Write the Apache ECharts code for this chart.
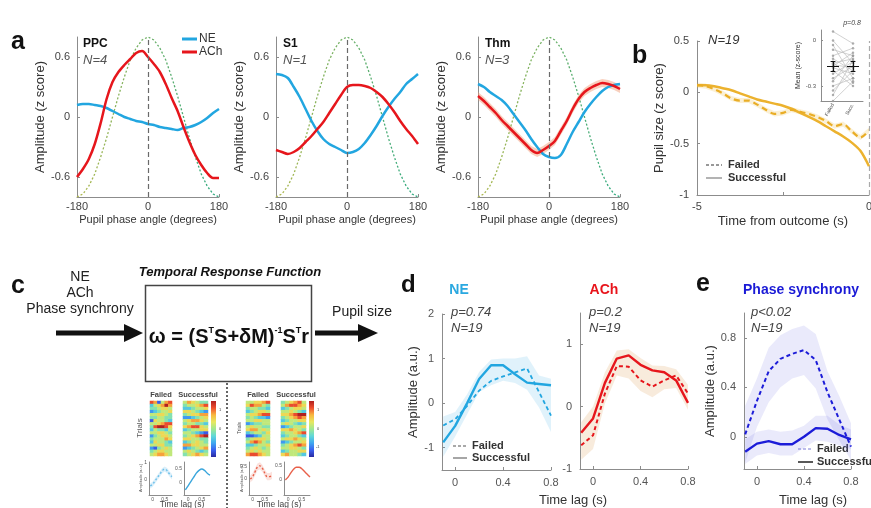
<!DOCTYPE html>
<html><head><meta charset="utf-8">
<script src="https://cdn.jsdelivr.net/npm/echarts@6/dist/echarts.min.js"></script>
<style>html,body{margin:0;padding:0;background:#fff}#c{width:871px;height:508px}</style>
</head><body><div id="c"></div><script>
const FONT = '"Liberation Sans", Arial, Helvetica, sans-serif';
const BLUE = '#22a6e0', RED = '#e6161c', GOLD = '#ecb22e', PS = '#1c1cd8';

// ---------- panel a ----------
const angles = [-180,-165,-150,-135,-120,-105,-90,-75,-60,-45,-30,-15,0,15,30,45,60,75,90,105,120,135,150,165,180];
const phaseRef = [-0.80,-0.77,-0.69,-0.57,-0.40,-0.21,0.00,0.21,0.40,0.57,0.69,0.77,0.80,0.77,0.69,0.57,0.40,0.21,0.00,-0.21,-0.40,-0.57,-0.69,-0.77,-0.80];
const ppcNE  = [0.12,0.13,0.13,0.12,0.11,0.09,0.06,0.03,0.00,-0.02,-0.04,-0.05,-0.07,-0.08,-0.10,-0.11,-0.12,-0.13,-0.11,-0.10,-0.08,-0.05,-0.01,0.04,0.08];
const ppcACh = [-0.60,-0.52,-0.42,-0.27,-0.06,0.18,0.35,0.45,0.52,0.58,0.64,0.66,0.60,0.53,0.45,0.33,0.19,0.06,-0.10,-0.25,-0.38,-0.48,-0.56,-0.61,-0.61];
const s1NE   = [0.43,0.42,0.39,0.30,0.20,0.08,-0.04,-0.14,-0.22,-0.27,-0.30,-0.33,-0.36,-0.35,-0.32,-0.26,-0.18,-0.09,0.01,0.10,0.18,0.25,0.33,0.38,0.43];
const s1ACh  = [-0.33,-0.35,-0.37,-0.35,-0.31,-0.25,-0.19,-0.12,-0.05,0.04,0.13,0.22,0.30,0.32,0.32,0.31,0.29,0.25,0.20,0.13,0.05,-0.04,-0.12,-0.19,-0.27];
const thmNE  = [0.33,0.30,0.25,0.21,0.17,0.11,0.03,-0.05,-0.13,-0.22,-0.30,-0.37,-0.40,-0.41,-0.38,-0.27,-0.15,-0.05,0.05,0.13,0.20,0.26,0.30,0.32,0.33];
const thmACh = [0.21,0.16,0.10,0.04,-0.03,-0.09,-0.15,-0.21,-0.27,-0.33,-0.36,-0.33,-0.29,-0.24,-0.14,-0.04,0.08,0.18,0.25,0.29,0.32,0.34,0.33,0.31,0.28];
const thmAChSpread = 0.04;
const aTicksY = [-0.6, 0, 0.6];

// ---------- panel b ----------
const bTime = [-5,-4.75,-4.5,-4.25,-4,-3.75,-3.5,-3.25,-3,-2.75,-2.5,-2.25,-2,-1.75,-1.5,-1.25,-1,-0.75,-0.5,-0.25,0];
const bSuccessful = [0.07,0.07,0.06,0.04,0.02,-0.01,-0.04,-0.07,-0.09,-0.11,-0.13,-0.16,-0.20,-0.24,-0.28,-0.33,-0.38,-0.43,-0.49,-0.57,-0.72];
const bFailed = [0.07,0.06,0.03,-0.01,-0.06,-0.08,-0.08,-0.12,-0.17,-0.21,-0.20,-0.17,-0.19,-0.21,-0.24,-0.28,-0.33,-0.31,-0.38,-0.44,-0.37];
const bFailedSpread = 0.025;
const insetFailed = [0.06,0.0,-0.03,-0.06,-0.10,-0.12,-0.14,-0.15,-0.16,-0.17,-0.18,-0.20,-0.22,-0.25,-0.27,-0.30,-0.33,-0.36,-0.40];
const insetSucc   = [-0.02,-0.15,-0.25,-0.10,-0.05,-0.20,-0.28,-0.12,-0.18,-0.08,-0.22,-0.30,-0.14,-0.17,-0.10,-0.25,-0.20,-0.13,-0.27];
const insetMean = [-0.17, -0.17];
const insetSem  = [0.035, 0.03];
const insetCats = ['Failed', 'Succ.'];

// ---------- panels d / e ----------
const lags = [-0.1,0,0.1,0.2,0.3,0.4,0.5,0.6,0.7,0.8];
const neSuccessful = [-0.88,-0.51,0.0,0.54,0.85,0.85,0.65,0.46,0.43,0.40];
const neFailed     = [-0.50,-0.36,-0.06,0.28,0.50,0.60,0.69,0.78,0.25,-0.28];
const neUpper      = [-0.30,-0.20,0.20,0.70,0.98,1.00,1.00,1.05,0.62,0.55];
const neLower      = [-1.20,-0.75,-0.25,0.25,0.40,0.50,0.45,0.30,-0.10,-0.65];
const achSuccessful = [-0.42,-0.19,0.38,0.77,0.82,0.67,0.58,0.55,0.42,0.06];
const achFailed     = [-0.62,-0.46,0.21,0.65,0.64,0.42,0.32,0.42,0.50,0.21];
const achUpper      = [-0.25,0.00,0.55,0.90,0.92,0.78,0.66,0.65,0.60,0.35];
const achLower      = [-0.85,-0.68,0.05,0.50,0.45,0.25,0.15,0.28,0.30,-0.05];
const psSuccessful  = [-0.12,-0.055,-0.035,-0.06,-0.06,0.0,0.07,0.065,0.015,-0.02];
const psFailed      = [0.02,0.29,0.53,0.63,0.67,0.70,0.62,0.36,0.14,-0.08];
const psFailUpper   = [0.25,0.47,0.72,0.82,0.87,0.90,0.83,0.53,0.33,0.11];
const psFailLower   = [-0.21,0.08,0.28,0.40,0.47,0.50,0.39,0.14,-0.03,-0.19];
const psSuccUpper   = [-0.02,0.04,0.06,0.04,0.05,0.09,0.17,0.17,0.10,0.06];
const psSuccLower   = [-0.22,-0.15,-0.13,-0.15,-0.15,-0.09,-0.03,-0.04,-0.07,-0.10];

// ---------- panel c (small insets) ----------
const heatNEFailed = ["871578","356797","445665","234556","556654","445544","165543","556788","489986","354435","556654","245665","455576","365543","556644","214565","456655","567765"];
const heatNESucc   = ["576544","455678","334556","665432","456677","223456","567765","455443","678865","345566","554321","456789","665544","345654","776655","234567","565434","456765"];
const heatAChFailed= ["556678","687754","455443","345665","566788","454332","556655","234455","565544","677565","345546","112355","456665","578754","334556","456545","565655","788765"];
const heatAChSucc  = ["456785","578876","345665","556543","667899","456787","345566","565434","234556","667654","455678","345543","566765","234556","456787","556654","345566","675543"];
const miniNEFailed  = [-0.35,-0.25,-0.05,0.15,0.35,0.55,0.65,0.55,0.35,0.20];
const miniNESucc    = [-0.25,-0.10,0.05,0.20,0.35,0.45,0.50,0.45,0.35,0.28];
const miniAChFailed = [0.00,0.10,0.30,0.50,0.55,0.45,0.25,0.10,0.10,0.15];
const miniAChSucc   = [0.00,0.10,0.25,0.38,0.45,0.45,0.40,0.30,0.20,0.10];
const miniSpread = 0.15;
const JET = ['#2a2aa0','#3a60f0','#40a8f0','#60d8d8','#a0e890','#e8e860','#f8b840','#f05030','#b02020'];

// ---------- helpers ----------
const pair = (xs, ys) => xs.map((x, i) => [x, ys[i]]);
function merge(a, b) {
  const o = Object.assign({}, a);
  for (const k in b) {
    if (b[k] && typeof b[k] === 'object' && !Array.isArray(b[k]) && a[k] && typeof a[k] === 'object' && !Array.isArray(a[k])) o[k] = merge(a[k], b[k]);
    else o[k] = b[k];
  }
  return o;
}
const grids = [], xAxes = [], yAxes = [], series = [];
function addGrid(l, t, w, h) { grids.push({left: l, top: t, width: w, height: h, containLabel: false, outerBoundsMode: 'none'}); return grids.length - 1; }
const AXC = '#8c8c8c';
function vAxis(gi, o) {
  return merge({type: 'value', gridIndex: gi, splitLine: {show: false},
    axisLine: {show: true, onZero: false, lineStyle: {color: AXC, width: 1}},
    axisTick: {show: true, inside: true, length: 3, lineStyle: {color: AXC}},
    axisLabel: {color: '#444', fontSize: 11, fontFamily: FONT, showMinLabel: true, showMaxLabel: true},
    nameLocation: 'middle', nameTextStyle: {color: '#333', fontFamily: FONT, fontSize: 12}}, o);
}
function addSeries(s) { series.push(s); return series.length - 1; }
function band(gi, xs, lo, hi, color) {
  return addSeries({type: 'custom', xAxisIndex: gi, yAxisIndex: gi, silent: true, z: 1,
    data: xs.map((x, i) => [x, lo[i], hi[i]]),
    encode: {x: 0, y: [1, 2]},
    renderItem: (params, api) => {
      if (params.dataIndex !== 0) return null;
      const pts = [];
      xs.forEach((x, i) => pts.push(api.coord([x, hi[i]])));
      for (let i = xs.length - 1; i >= 0; i--) pts.push(api.coord([xs[i], lo[i]]));
      return {type: 'polygon', shape: {points: pts}, style: {fill: color}};
    }});
}
function line(gi, xs, ys, color, width, dash, extra) {
  return addSeries(merge({type: 'line', xAxisIndex: gi, yAxisIndex: gi, data: pair(xs, ys), showSymbol: false, symbol: 'none', silent: true,
    lineStyle: {color: color, width: width, type: dash || 'solid'}, z: 3}, extra || {}));
}
const vDash = {markLine: {silent: true, symbol: 'none', label: {show: false}, lineStyle: {color: '#6a6a6a', type: [5, 3], width: 1.2}, data: [{xAxis: 0}]}};

// ---------- panel a ----------
const greenGrad = new echarts.graphic.LinearGradient(0, 0, 1, 0, [{offset: 0, color: '#b2b84c'}, {offset: 1, color: '#2aa982'}]);
const aLefts = [77, 276, 478];
const aSets = [[ppcNE, ppcACh], [s1NE, s1ACh], [thmNE, thmACh]];
aLefts.forEach((l, k) => {
  const gi = addGrid(l, 37, 142, 160);
  xAxes.push(vAxis(gi, {min: -180, max: 180, interval: 180, name: 'Pupil phase angle (degrees)', nameGap: 17, nameTextStyle: {fontSize: 11}, axisLabel: {margin: 4}}));
  yAxes.push(vAxis(gi, {min: -0.8, max: 0.8, axisLabel: {customValues: aTicksY, margin: 7}, axisTick: {customValues: aTicksY}, name: 'Amplitude (z score)', nameGap: 23, nameTextStyle: {fontSize: 13}}));
  line(gi, angles, phaseRef, greenGrad, 1.3, [2, 2], merge(vDash, {z: 2}));
  if (k === 2) {
    band(gi, angles, aSets[k][1].map(v => v - thmAChSpread), aSets[k][1].map(v => v + thmAChSpread), 'rgba(240,150,110,0.45)');
  }
  line(gi, angles, aSets[k][0], BLUE, 2.5, 'solid', {smooth: 0.3, z: 3});
  line(gi, angles, aSets[k][1], RED, 2.5, 'solid', {smooth: 0.3, z: 4});
});

// ---------- panel b ----------
{
  const gi = addGrid(697, 41, 172, 154);
  xAxes.push(vAxis(gi, {min: -5, max: 0, axisLabel: {customValues: [-5, 0], margin: 6}, axisTick: {customValues: [-5, -2.5, 0]}, name: 'Time from outcome (s)', nameGap: 20, nameTextStyle: {fontSize: 13}}));
  yAxes.push(vAxis(gi, {min: -1, max: 0.5, interval: 0.5, name: 'Pupil size (z score)', nameGap: 26, nameTextStyle: {fontSize: 13}, axisLabel: {margin: 8}}));
  band(gi, bTime, bFailed.map(v => v - bFailedSpread), bFailed.map(v => v + bFailedSpread), 'rgba(236,178,46,0.2)');
  line(gi, bTime, bSuccessful, GOLD, 2.5, 'solid', merge(vDash, {smooth: 0.3, markLine: {lineStyle: {color: '#aaa'}}}));
  line(gi, bTime, bFailed, '#e9ad26', 2.2, [6, 4], {smooth: 0.3});
}
// inset
{
  const gi = addGrid(821, 30, 42, 71);
  xAxes.push(vAxis(gi, {min: -0.6, max: 1.5, axisTick: {show: false},
    axisLabel: {customValues: [0, 1], formatter: v => insetCats[Math.round(v)], rotate: 60, fontSize: 5, margin: 3, color: '#555'}}));
  yAxes.push(vAxis(gi, {min: -0.4, max: 0.07, axisLabel: {customValues: [0, -0.3], fontSize: 6, margin: 5, color: '#555'}, axisTick: {customValues: [0, -0.3], length: 2},
    name: 'Mean (z-score)', nameGap: 10, nameTextStyle: {fontSize: 7}}));
  addSeries({type: 'lines', coordinateSystem: 'cartesian2d', xAxisIndex: gi, yAxisIndex: gi, silent: true, z: 2,
    lineStyle: {color: '#bdbdbd', width: 0.7, opacity: 1},
    data: insetFailed.map((f, i) => ({coords: [[0, f], [1, insetSucc[i]]]}))});
  addSeries({type: 'scatter', xAxisIndex: gi, yAxisIndex: gi, silent: true, symbolSize: 2.5, itemStyle: {color: '#9a9a9a'}, z: 3,
    data: insetFailed.map(v => [0, v]).concat(insetSucc.map(v => [1, v]))});
  const eb = [];
  insetMean.forEach((m, i) => {
    const s = insetSem[i];
    eb.push({coords: [[i, m - s], [i, m + s]]});
    eb.push({coords: [[i - 0.12, m - s], [i + 0.12, m - s]]});
    eb.push({coords: [[i - 0.12, m + s], [i + 0.12, m + s]]});
    eb.push({coords: [[i - 0.3, m], [i + 0.3, m]]});
  });
  addSeries({type: 'lines', coordinateSystem: 'cartesian2d', xAxisIndex: gi, yAxisIndex: gi, silent: true, z: 4,
    lineStyle: {color: '#111', width: 1.2, opacity: 1}, data: eb});
}

// ---------- panels d / e ----------
const lagAxis = (gi) => vAxis(gi, {min: -0.11, max: 0.8, axisLabel: {customValues: [0, 0.4, 0.8], color: '#555', margin: 7}, axisTick: {customValues: [0, 0.4, 0.8]}});
{
  const gi = addGrid(442, 314, 109, 156);
  xAxes.push(lagAxis(gi));
  yAxes.push(vAxis(gi, {min: -1.5, max: 2, axisLabel: {customValues: [-1, 0, 1, 2], color: '#555', margin: 8}, axisTick: {customValues: [-1, 0, 1, 2]}, name: 'Amplitude (a.u.)', nameGap: 22, nameTextStyle: {fontSize: 13}}));
  band(gi, lags, neLower, neUpper, 'rgba(34,166,224,0.14)');
  line(gi, lags, neFailed, BLUE, 1.8, [4, 3]);
  line(gi, lags, neSuccessful, BLUE, 2.4);
}
{
  const gi = addGrid(580, 313, 108, 156);
  xAxes.push(lagAxis(gi));
  yAxes.push(vAxis(gi, {min: -1, max: 1.5, axisLabel: {customValues: [-1, 0, 1], color: '#555', margin: 8}, axisTick: {customValues: [-1, 0, 1]}}));
  band(gi, lags, achLower, achUpper, 'rgba(232,190,140,0.3)');
  line(gi, lags, achFailed, RED, 2, [4, 3]);
  line(gi, lags, achSuccessful, RED, 2.4);
}
{
  const gi = addGrid(744, 313, 107, 156);
  xAxes.push(lagAxis(gi));
  yAxes.push(vAxis(gi, {min: -0.26, max: 1.0, axisLabel: {customValues: [0, 0.4, 0.8], color: '#555', margin: 8}, axisTick: {customValues: [0, 0.4, 0.8]}, name: 'Amplitude (a.u.)', nameGap: 24, nameTextStyle: {fontSize: 13}}));
  band(gi, lags, psFailLower, psFailUpper, 'rgba(90,90,225,0.13)');
  band(gi, lags, psSuccLower, psSuccUpper, 'rgba(90,90,225,0.13)');
  line(gi, lags, psFailed, PS, 2, [4, 3]);
  line(gi, lags, psSuccessful, PS, 2.4);
}

// ---------- panel c small heatmaps ----------
const heatIdx = [];
[[150, heatNEFailed], [183, heatNESucc], [246, heatAChFailed], [281, heatAChSucc]].forEach(([l, rows]) => {
  const gi = addGrid(l, 401, l === 150 ? 22 : (l === 246 ? 24 : 25), 55);
  const nC = rows[0].length, nR = rows.length;
  xAxes.push({type: 'category', gridIndex: gi, data: Array.from({length: nC}, (_, i) => i), show: false});
  yAxes.push({type: 'category', gridIndex: gi, data: Array.from({length: nR}, (_, i) => i), show: false, inverse: true});
  const data = [];
  rows.forEach((r, ri) => { for (let ci = 0; ci < nC; ci++) data.push([ci, ri, +r[ci]]); });
  heatIdx.push(addSeries({type: 'heatmap', xAxisIndex: gi, yAxisIndex: gi, data, silent: true, itemStyle: {borderWidth: 0}}));
});
// small line plots
const miniDefs = [
  [149, 23, miniNEFailed, '#6cbfea', [2, 2], [-0.88, 1.06], [0, 1], 'rgba(108,191,234,0.25)'],
  [184, 26, miniNESucc, '#3aa6dc', 'solid', [-0.43, 0.75], [0, 0.5], null],
  [249, 23, miniAChFailed, '#e8604a', [2, 2], [-0.67, 0.71], [0, 0.5], 'rgba(240,140,120,0.25)'],
  [284, 26, miniAChSucc, '#e8604a', 'solid', [-0.54, 0.64], [0, 0.5], null]
];
miniDefs.forEach(([l, w, ys, col, dash, yr, yt, bcol]) => {
  const gi = addGrid(l, 462, w, 33);
  xAxes.push(vAxis(gi, {min: -0.15, max: 0.8, axisTick: {show: false}, axisLabel: {customValues: [0, 0.5], fontSize: 5, margin: 2, color: '#555'}}));
  yAxes.push(vAxis(gi, {min: yr[0], max: yr[1], axisTick: {show: false}, axisLabel: {customValues: yt, fontSize: 5, margin: 2, color: '#555'}}));
  if (bcol) band(gi, lags, ys.map(v => v - miniSpread), ys.map(v => v + miniSpread), bcol);
  line(gi, lags, ys, col, 1.4, dash, {smooth: 0.4});
});

// ---------- graphics ----------
const T = (x, y, text, o) => ({type: 'text', x, y, silent: true, style: merge({text, fontFamily: FONT, fontSize: 12, fill: '#222', align: 'left', verticalAlign: 'middle'}, o || {})});
const L = (x1, y1, x2, y2, o) => ({type: 'line', silent: true, shape: {x1, y1, x2, y2}, style: merge({stroke: '#333', lineWidth: 1.5}, o || {})});
const cbar = (x) => ({type: 'rect', silent: true, shape: {x, y: 401, width: 5, height: 56},
  style: {fill: new echarts.graphic.LinearGradient(0, 1, 0, 0, JET.map((c, i) => ({offset: i / (JET.length - 1), color: c})))}});
const g = [
  // panel letters
  T(11, 30, 'a', {fontSize: 25, fontWeight: 'bold', verticalAlign: 'alphabetic', fill: '#111'}),
  T(632, 44, 'b', {fontSize: 25, fontWeight: 'bold', verticalAlign: 'alphabetic', fill: '#111'}),
  T(11, 274, 'c', {fontSize: 25, fontWeight: 'bold', verticalAlign: 'alphabetic', fill: '#111'}),
  T(401, 273, 'd', {fontSize: 24, fontWeight: 'bold', verticalAlign: 'alphabetic', fill: '#111'}),
  T(696, 272, 'e', {fontSize: 25, fontWeight: 'bold', verticalAlign: 'alphabetic', fill: '#111'}),
  // panel a annotations
  T(83, 44, 'PPC', {fontWeight: 'bold', fill: '#111'}), T(83, 60, 'N=4', {fontStyle: 'italic', fontSize: 13, fill: '#555'}),
  T(283, 44, 'S1', {fontWeight: 'bold', fill: '#111'}), T(283, 60, 'N=1', {fontStyle: 'italic', fontSize: 13, fill: '#555'}),
  T(485, 44, 'Thm', {fontWeight: 'bold', fill: '#111'}), T(485, 60, 'N=3', {fontStyle: 'italic', fontSize: 13, fill: '#555'}),
  L(182, 39, 197, 39, {stroke: BLUE, lineWidth: 3}), T(199, 39, 'NE', {fill: '#333'}),
  L(182, 52, 197, 52, {stroke: RED, lineWidth: 3}), T(199, 52, 'ACh', {fill: '#333'}),
  // panel b annotations
  T(708, 40, 'N=19', {fontStyle: 'italic', fontSize: 13, fill: '#333'}),
  L(706, 165, 722, 165, {stroke: '#333', lineWidth: 1.2, lineDash: [3, 2]}), T(728, 165, 'Failed', {fontWeight: 'bold', fontSize: 11, fill: '#333'}),
  L(706, 178, 722, 178, {stroke: '#9a9a9a', lineWidth: 1.5}), T(728, 178, 'Successful', {fontWeight: 'bold', fontSize: 11, fill: '#333'}),
  T(852, 23, 'p=0.8', {fontStyle: 'italic', fontSize: 7, fill: '#444', align: 'center'}),
  // panel c diagram
  T(80, 277, 'NE', {fontSize: 14, align: 'center', fill: '#222'}),
  T(80, 293, 'ACh', {fontSize: 14, align: 'center', fill: '#222'}),
  T(80, 309, 'Phase synchrony', {fontSize: 14, align: 'center', fill: '#222'}),
  T(230, 272, 'Temporal Response Function', {fontSize: 13, fontWeight: 'bold', fontStyle: 'italic', align: 'center', fill: '#111'}),
  {type: 'rect', silent: true, shape: {x: 145.5, y: 285.5, width: 166, height: 96}, style: {fill: 'none', stroke: '#444', lineWidth: 1.5}},
  {type: 'text', x: 229, y: 335, silent: true, style: {
    text: '{m|ω = (S}{s|T}{m|S+δM)}{s|-1}{m|S}{s|T}{m|r}', align: 'center', verticalAlign: 'middle',
    rich: {m: {fontFamily: FONT, fontSize: 20, fontWeight: 'bold', fill: '#111', lineHeight: 24, verticalAlign: 'bottom'},
           s: {fontFamily: FONT, fontSize: 9, fontWeight: 'bold', fill: '#111', lineHeight: 24, verticalAlign: 'top', padding: [3, 0, 0, 0]}}}},
  L(56, 333, 126, 333, {stroke: '#111', lineWidth: 5}),
  {type: 'polygon', silent: true, shape: {points: [[124, 324], [143, 333], [124, 342]]}, style: {fill: '#111'}},
  L(315, 333, 360, 333, {stroke: '#111', lineWidth: 5}),
  {type: 'polygon', silent: true, shape: {points: [[358, 324], [378, 333], [358, 342]]}, style: {fill: '#111'}},
  T(362, 312, 'Pupil size', {fontSize: 14, align: 'center', fill: '#222'}),
  L(227, 383, 227, 508, {stroke: '#333', lineWidth: 1.5, lineDash: [2, 2]}),
  T(161, 395, 'Failed', {fontSize: 7.5, fontWeight: 'bold', align: 'center', fill: '#444'}),
  T(198, 395, 'Successful', {fontSize: 7.5, fontWeight: 'bold', align: 'center', fill: '#444'}),
  T(258, 395, 'Failed', {fontSize: 7.5, fontWeight: 'bold', align: 'center', fill: '#444'}),
  T(296, 395, 'Successful', {fontSize: 7.5, fontWeight: 'bold', align: 'center', fill: '#444'}),
  cbar(211), cbar(309),
  T(219, 410, '1', {fontSize: 4, fill: '#444'}), T(219, 429, '0', {fontSize: 4, fill: '#444'}), T(218, 447, '-1', {fontSize: 4, fill: '#444'}),
  T(317, 410, '1', {fontSize: 4, fill: '#444'}), T(317, 429, '0', {fontSize: 4, fill: '#444'}), T(316, 447, '-1', {fontSize: 4, fill: '#444'}),
  {type: 'text', x: 140, y: 428, rotation: Math.PI / 2, silent: true, style: {text: 'Trials', fontFamily: FONT, fontSize: 8, fill: '#555', align: 'center', verticalAlign: 'middle'}},
  {type: 'text', x: 240, y: 428, rotation: Math.PI / 2, silent: true, style: {text: 'Trials', fontFamily: FONT, fontSize: 5, fill: '#555', align: 'center', verticalAlign: 'middle'}},
  {type: 'text', x: 141, y: 478, rotation: Math.PI / 2, silent: true, style: {text: 'Amplitude (a.u.)', fontFamily: FONT, fontSize: 4, fill: '#555', align: 'center', verticalAlign: 'middle'}},
  {type: 'text', x: 242, y: 478, rotation: Math.PI / 2, silent: true, style: {text: 'Amplitude (a.u.)', fontFamily: FONT, fontSize: 4, fill: '#555', align: 'center', verticalAlign: 'middle'}},
  T(182, 505, 'Time lag (s)', {fontSize: 8.5, align: 'center', fill: '#444'}),
  T(279, 505, 'Time lag (s)', {fontSize: 8.5, align: 'center', fill: '#444'}),
  // panel d / e annotations
  T(459, 290, 'NE', {fontSize: 14, fontWeight: 'bold', align: 'center', fill: '#2aa8e0'}),
  T(604, 290, 'ACh', {fontSize: 14, fontWeight: 'bold', align: 'center', fill: '#e8141b'}),
  T(801, 290, 'Phase synchrony', {fontSize: 14, fontWeight: 'bold', align: 'center', fill: '#1a1ad6'}),
  T(451, 312, 'p=0.74', {fontStyle: 'italic', fontSize: 13, fill: '#444'}), T(451, 328, 'N=19', {fontStyle: 'italic', fontSize: 13, fill: '#444'}),
  T(589, 312, 'p=0.2', {fontStyle: 'italic', fontSize: 13, fill: '#444'}), T(589, 328, 'N=19', {fontStyle: 'italic', fontSize: 13, fill: '#444'}),
  T(751, 312, 'p<0.02', {fontStyle: 'italic', fontSize: 13, fill: '#444'}), T(751, 328, 'N=19', {fontStyle: 'italic', fontSize: 13, fill: '#444'}),
  L(453, 446, 467, 446, {stroke: '#555', lineWidth: 1.2, lineDash: [3, 2]}), T(472, 446, 'Failed', {fontWeight: 'bold', fontSize: 11, fill: '#333'}),
  L(453, 458, 467, 458, {stroke: '#888', lineWidth: 1.5}), T(472, 458, 'Successful', {fontWeight: 'bold', fontSize: 11, fill: '#333'}),
  L(798, 449, 813, 449, {stroke: '#7a7ad8', lineWidth: 1.2, lineDash: [3, 2]}), T(817, 449, 'Failed', {fontWeight: 'bold', fontSize: 11, fill: '#333'}),
  L(798, 462, 813, 462, {stroke: '#222', lineWidth: 1.5}), T(817, 462, 'Successful', {fontWeight: 'bold', fontSize: 11, fill: '#333'}),
  T(573, 500, 'Time lag (s)', {fontSize: 13, align: 'center', fill: '#333'}),
  T(813, 500, 'Time lag (s)', {fontSize: 13, align: 'center', fill: '#333'})
];

const chart = echarts.init(document.getElementById('c'), null, {renderer: 'canvas'});
chart.setOption({
  animation: false,
  backgroundColor: '#fff',
  textStyle: {fontFamily: FONT},
  grid: grids, xAxis: xAxes, yAxis: yAxes,
  visualMap: [{type: 'continuous', show: false, min: 0, max: 9, dimension: 2, seriesIndex: heatIdx, inRange: {color: JET}}],
  series: series,
  graphic: {elements: g}
});
</script></body></html>
